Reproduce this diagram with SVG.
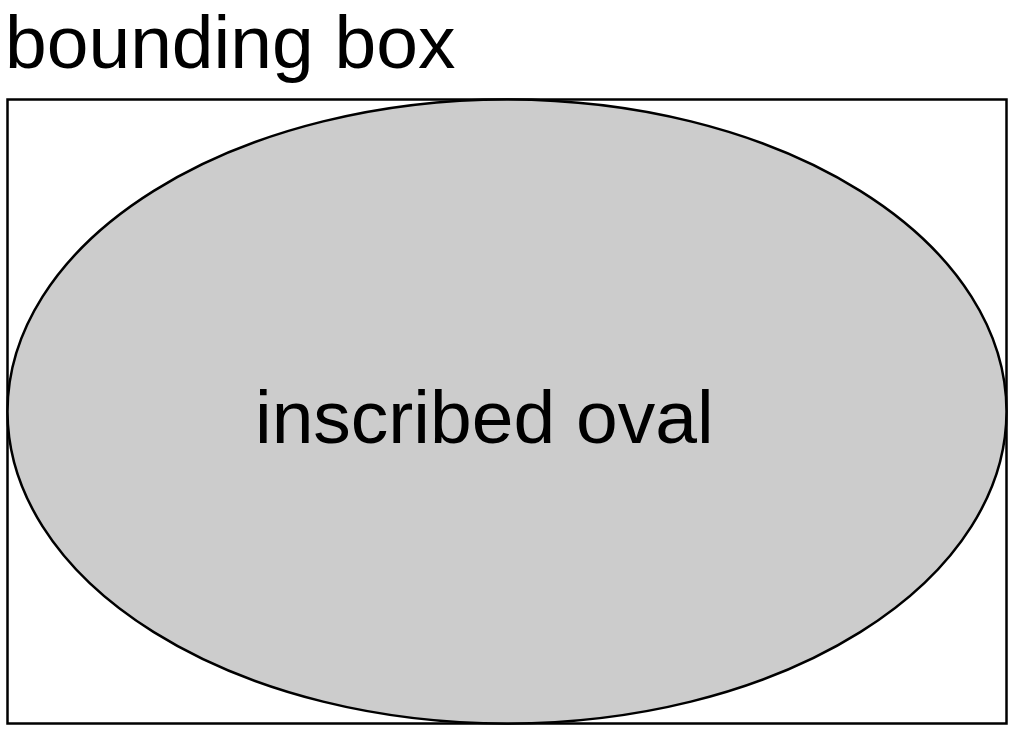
<svg xmlns="http://www.w3.org/2000/svg" width="1014" height="730" viewBox="0 0 1014 730">
<style>
.lbl{font-family:"Liberation Sans",Arial,Helvetica,sans-serif;font-size:75px;fill:#000}
</style>
<rect x="0" y="0" width="1014" height="730" fill="#fff"/>
<g id="bounding-box">
<rect x="7.5" y="99.5" width="999" height="624" fill="#fff" stroke="#000" stroke-width="2.5"/>
<text class="lbl" x="5" y="68">bounding box</text>
</g>
<g id="inscribed-oval">
<ellipse cx="507" cy="411.5" rx="499.5" ry="312" fill="#cccccc" stroke="#000" stroke-width="2.5"/>
<text class="lbl" x="255" y="443">inscribed oval</text>
</g>
<g id="connectors"></g>
</svg>
